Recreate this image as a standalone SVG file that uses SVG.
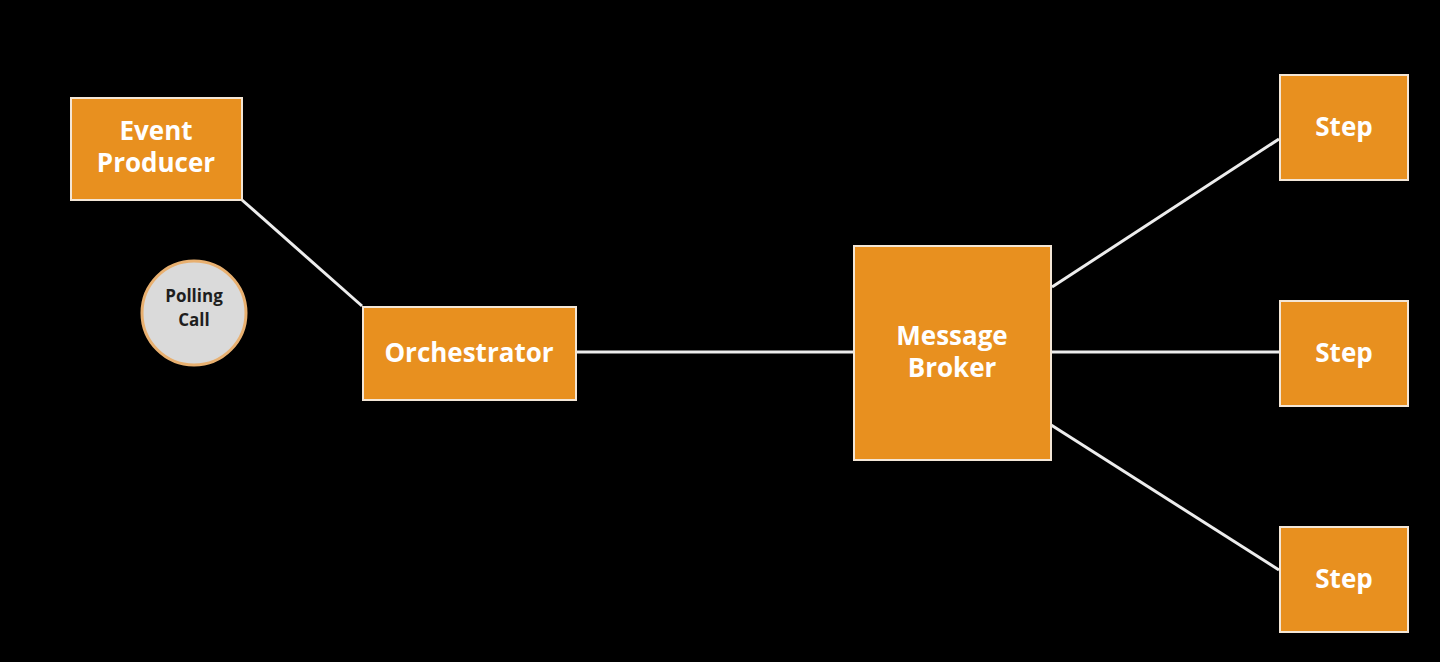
<svg xmlns="http://www.w3.org/2000/svg" width="1440" height="662" viewBox="0 0 1440 662">
<style>
.box{fill:#E8901F;stroke:#F3E6D6;stroke-width:2}
.lbl{font-family:"Open Sans","Liberation Sans",sans-serif;font-weight:bold;font-size:26px;fill:#FFFFFF;text-anchor:middle}
.poll{font-family:"Open Sans","Liberation Sans",sans-serif;font-weight:bold;font-size:17px;fill:#1E1E1E;text-anchor:middle}
.conn{stroke:#EDEDED;stroke-width:3;fill:none}
</style>
<rect width="1440" height="662" fill="#000000"/>
<g id="connectors">
<line class="conn" x1="242" y1="200" x2="362" y2="306"/>
<line class="conn" x1="577" y1="352" x2="853" y2="352"/>
<line class="conn" x1="1052" y1="287" x2="1279" y2="139"/>
<line class="conn" x1="1052" y1="352" x2="1279" y2="352"/>
<line class="conn" x1="1048" y1="423" x2="1279" y2="570"/>
</g>
<g id="event-producer">
<rect class="box" x="71" y="98" width="171" height="102"/>
<text class="lbl" x="156" y="140"><tspan x="156">Event</tspan><tspan x="156" dy="32">Producer</tspan></text>
</g>
<g id="polling-call">
<circle cx="194" cy="313" r="52" fill="#DADADA" stroke="#E8B070" stroke-width="3"/>
<text class="poll" x="194" y="302"><tspan x="194">Polling</tspan><tspan x="194" dy="24">Call</tspan></text>
</g>
<g id="orchestrator">
<rect class="box" x="363" y="307" width="213" height="93"/>
<text class="lbl" x="469" y="362">Orchestrator</text>
</g>
<g id="message-broker">
<rect class="box" x="854" y="246" width="197" height="214"/>
<text class="lbl" x="952" y="345"><tspan x="952">Message</tspan><tspan x="952" dy="32">Broker</tspan></text>
</g>
<g id="step-1">
<rect class="box" x="1280" y="75" width="128" height="105"/>
<text class="lbl" x="1344" y="136">Step</text>
</g>
<g id="step-2">
<rect class="box" x="1280" y="301" width="128" height="105"/>
<text class="lbl" x="1344" y="362">Step</text>
</g>
<g id="step-3">
<rect class="box" x="1280" y="527" width="128" height="105"/>
<text class="lbl" x="1344" y="588">Step</text>
</g>
</svg>
